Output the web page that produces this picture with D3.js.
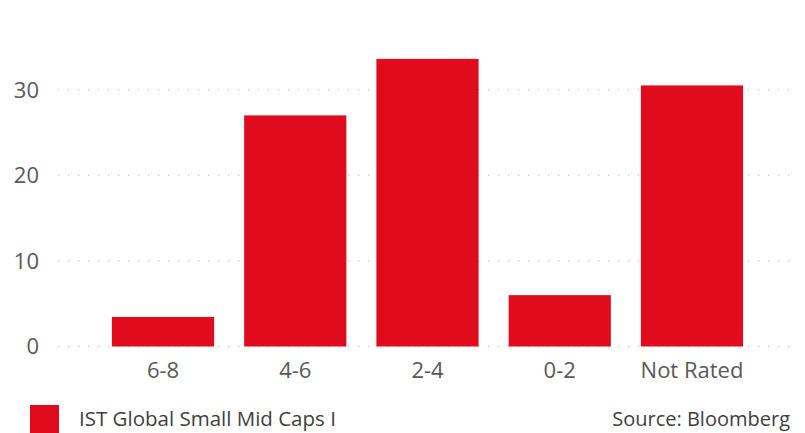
<!DOCTYPE html>
<html>
<head>
<meta charset="utf-8">
<script src="https://cdn.jsdelivr.net/npm/d3@7"></script>
<style>
  html, body { margin: 0; padding: 0; background: #fff; }
  svg { display: block; font-family: 'Open Sans', 'Noto Sans', sans-serif; }
</style>
</head>
<body>
<svg id="chart" width="805" height="433"></svg>
<script>
const categories = ['6-8', '4-6', '2-4', '0-2', 'Not Rated']
const values = [3.45, 27.0, 33.6, 6.0, 30.5]
const yTicks = [0, 10, 20, 30]
const seriesName = 'IST Global Small Mid Caps I'
const sourceText = 'Source: Bloomberg'

const plotLeft = 59, plotRight = 796, plotBottom = 346.5
const RED = '#e00c1e'

const svg = d3.select('#chart')

const x = d3.scaleBand()
  .domain(categories)
  .range([plotLeft, plotRight])
  .paddingInner(0.227)
  .paddingOuter(0.4)

const y = d3.scaleLinear()
  .domain([0, 40])
  .range([plotBottom, plotBottom - 4 * 85.6])

// Gridlines (dotted)
svg.append('g').selectAll('line')
  .data(yTicks)
  .enter().append('line')
  .attr('x1', plotLeft - 1).attr('x2', plotRight - 1)
  .attr('y1', d => y(d)).attr('y2', d => y(d))
  .attr('stroke', '#c8c8c8')
  .attr('stroke-width', 1.3)
  .attr('stroke-dasharray', '1.3 8.7')

// Y tick labels
svg.append('g').selectAll('text')
  .data(yTicks)
  .enter().append('text')
  .attr('x', 39)
  .attr('y', d => y(d))
  .attr('dy', '0.36em')
  .attr('text-anchor', 'end')
  .attr('font-size', 22)
  .attr('fill', '#595959')
  .text(d => d)

// Bars
svg.append('g').selectAll('rect')
  .data(categories)
  .enter().append('rect')
  .attr('x', d => x(d))
  .attr('width', x.bandwidth())
  .attr('y', (d, i) => y(values[i]))
  .attr('height', (d, i) => y(0) - y(values[i]))
  .attr('fill', RED)

// X labels
svg.append('g').selectAll('text')
  .data(categories)
  .enter().append('text')
  .attr('x', d => x(d) + x.bandwidth() / 2)
  .attr('y', 377.5)
  .attr('text-anchor', 'middle')
  .attr('font-size', 22)
  .attr('fill', '#595959')
  .text(d => d)

// Legend
svg.append('rect')
  .attr('x', 30).attr('y', 405)
  .attr('width', 29).attr('height', 28)
  .attr('fill', RED)

svg.append('text')
  .attr('x', 79).attr('y', 425.5)
  .attr('font-size', 20.5)
  .attr('fill', '#404040')
  .text(seriesName)

svg.append('text')
  .attr('x', 790).attr('y', 425.5)
  .attr('text-anchor', 'end')
  .attr('font-size', 20)
  .attr('fill', '#404040')
  .text(sourceText)
</script>
</body>
</html>
